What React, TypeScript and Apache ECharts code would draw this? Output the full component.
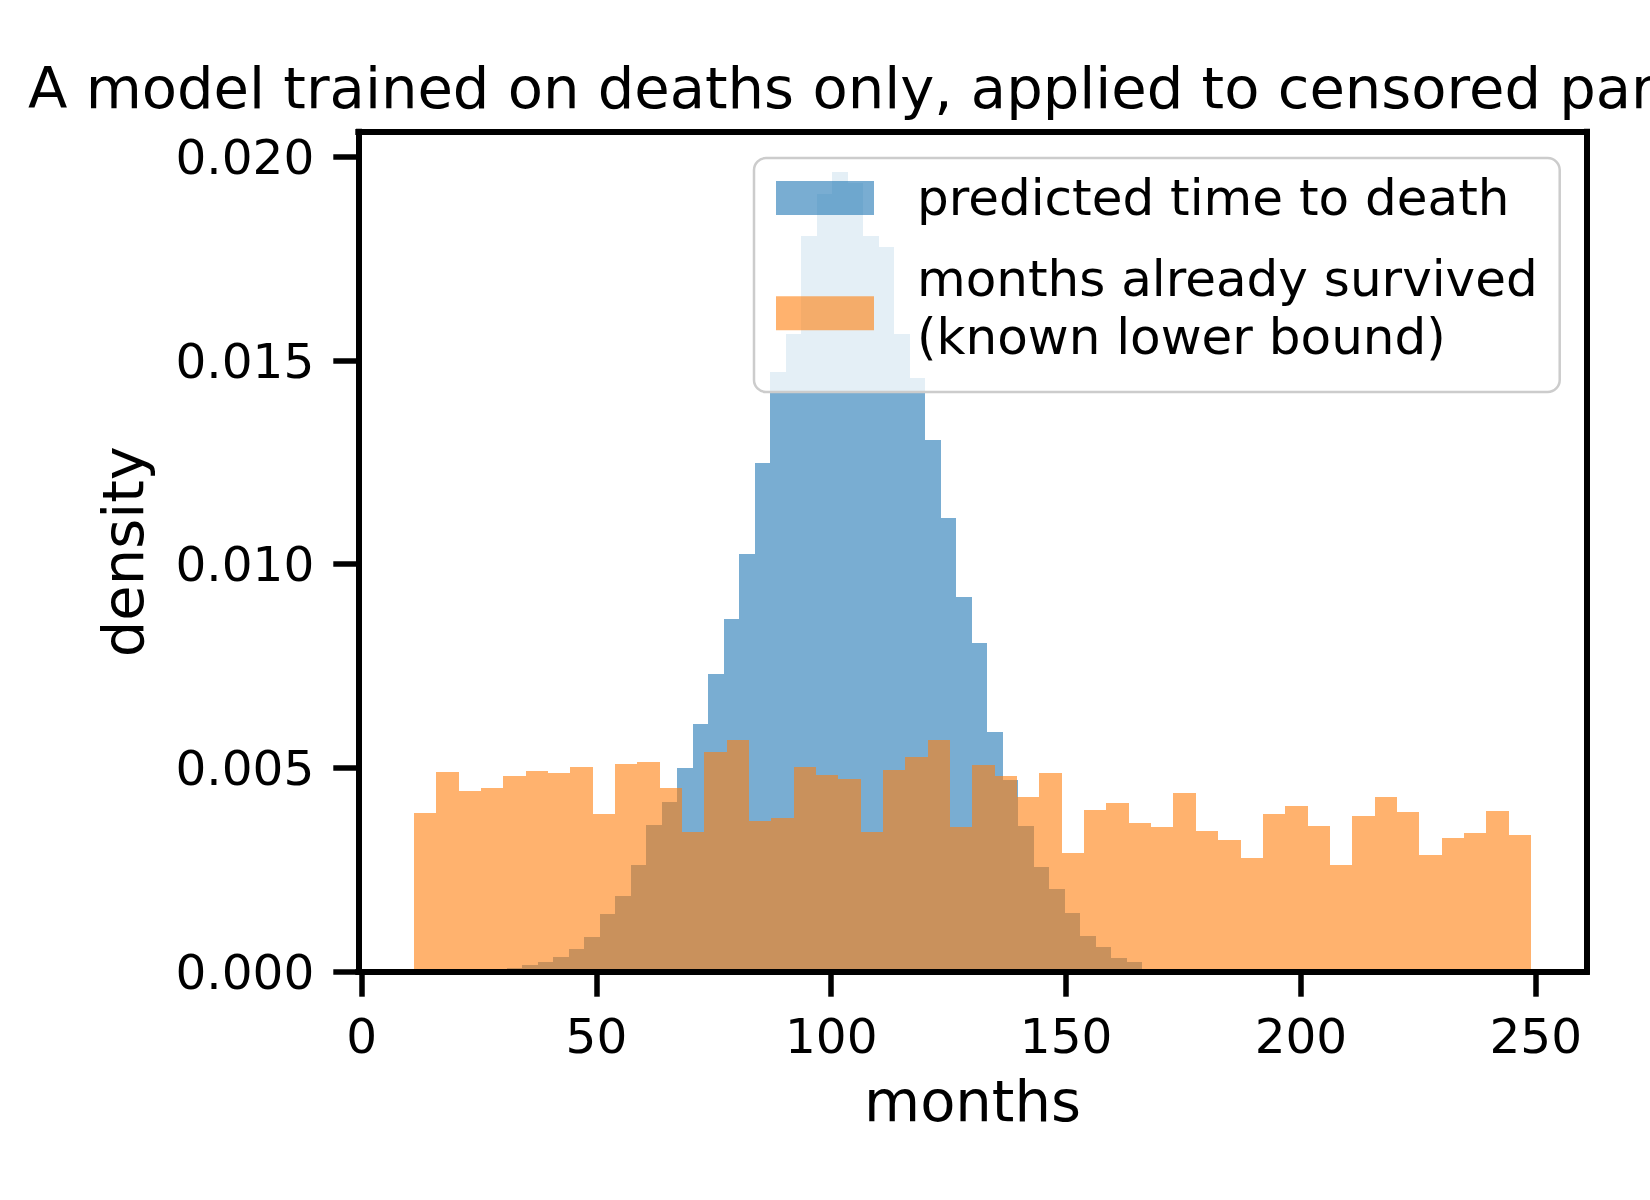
import { useEffect, useRef } from "react";
import * as echarts from "echarts";

const FONT = "DejaVu Sans";

const TITLE = "A model trained on deaths only, applied to censored participants";
const X_LABEL = "months";
const Y_LABEL = "density";
const DEATH_LABEL = "predicted time to death";
const SURVIVED_LABEL = "months already survived\n(known lower bound)";

const xTicks = [0, 50, 100, 150, 200, 250];
const yTicks = [0, 0.005, 0.01, 0.015, 0.02];

// Predicted time to death: equal-width bins (months), density per bin
const deathBinStart = 30.89;
const deathBinWidth = 3.3;
const deathDensity = [
  0.00008, 0.00016, 0.00024, 0.00036, 0.00056, 0.00085, 0.00142, 0.00186,
  0.00262, 0.0036, 0.00417, 0.005, 0.00608, 0.0073, 0.00866, 0.01025,
  0.01249, 0.01473, 0.01566, 0.01806, 0.01909, 0.01962, 0.01935, 0.01806,
  0.01779, 0.01564, 0.01456, 0.01305, 0.01114, 0.00919, 0.00807, 0.00589,
  0.0047, 0.00358, 0.00256, 0.00203, 0.00145, 0.00087, 0.00061, 0.00034,
  0.00024,
];

// Months already survived (censoring times): equal-width bins, density per bin
const survivedBinStart = 11.13;
const survivedBinWidth = 4.757;
const survivedDensity = [
  0.00389, 0.0049, 0.00444, 0.00451, 0.00481, 0.00493, 0.00488, 0.00503,
  0.00387, 0.0051, 0.00515, 0.00451, 0.00344, 0.00538, 0.00569, 0.00369,
  0.00376, 0.00502, 0.00483, 0.00472, 0.00344, 0.00494, 0.00528, 0.00569,
  0.00355, 0.00507, 0.00481, 0.00429, 0.00488, 0.00291, 0.00397, 0.00413,
  0.00365, 0.00355, 0.00439, 0.00345, 0.00323, 0.00279, 0.00387, 0.00407,
  0.00357, 0.00261, 0.00382, 0.00429, 0.00392, 0.00286, 0.00328, 0.0034,
  0.00394, 0.00335,
];

const X_MIN = -0.7;
const X_MAX = 260.85;
const Y_MAX = 0.020616;

const BLUE = "rgba(31,119,180,0.6)";
const ORANGE = "rgba(255,127,14,0.6)";

// Legend patches: a 98x34 swatch inside a 98x55 box; the second one sits lower,
// next to the middle of its two-line label
const PATCH_CENTERED = "path://M0,0M0,10.5L98,10.5L98,44.5L0,44.5ZM98,55";
const PATCH_LOWER = "path://M0,0M0,15.8L98,15.8L98,49.8L0,49.8ZM98,55";

// [left edge, right edge, density] rows for a histogram
function toBins(start: number, width: number, density: number[]) {
  return density.map((d, i) => [start + i * width, start + (i + 1) * width, d]);
}

function histRender(fill: string) {
  return (_params: any, api: any) => {
    const a = api.coord([api.value(0), api.value(2)]);
    const b = api.coord([api.value(1), 0]);
    const left = Math.round(a[0]);
    const right = Math.round(b[0]);
    const top = Math.round(a[1]);
    const bottom = Math.round(b[1]);
    return {
      type: "rect",
      shape: { x: left, y: top, width: right - left, height: bottom - top },
      style: { fill },
    };
  };
}

const SPINE = { color: "#000", width: 6, cap: "square" as const };

export default function App() {
  const ref = useRef<HTMLDivElement>(null);

  useEffect(() => {
    if (!ref.current) return;
    const chart = echarts.init(ref.current, null, { renderer: "svg" });

    const tickLabel = { fontFamily: FONT, fontSize: 48.5, color: "#000" };

    chart.setOption({
      animation: false,
      backgroundColor: "#fff",
      title: {
        text: TITLE,
        left: 28,
        top: 59,
        padding: 0,
        textStyle: { fontFamily: FONT, fontSize: 57.6, fontWeight: "normal", color: "#000" },
      },
      grid: { left: 358.3, top: 131.7, width: 1228.4, height: 840, containLabel: false },
      legend: {
        orient: "vertical",
        left: 754,
        top: 158,
        padding: [11, 22, 26, 22],
        itemWidth: 98,
        itemHeight: 55,
        itemGap: 23,
        symbolKeepAspect: true,
        selectedMode: false,
        backgroundColor: "rgba(255,255,255,0.8)",
        borderColor: "#cccccc",
        borderWidth: 2.5,
        borderRadius: 12,
        textStyle: {
          fontFamily: FONT,
          fontSize: 50,
          color: "#000",
          lineHeight: 58,
          padding: [0, 0, 0, 38],
        },
        data: [
          { name: DEATH_LABEL, icon: PATCH_CENTERED },
          { name: SURVIVED_LABEL, icon: PATCH_LOWER },
        ],
      },
      xAxis: [
        {
          type: "value",
          position: "bottom",
          min: X_MIN,
          max: X_MAX,
          z: 10,
          axisLine: { show: true, onZero: false, lineStyle: SPINE },
          axisTick: { show: true, length: 25, lineStyle: { color: "#000", width: 5.5 }, customValues: xTicks },
          axisLabel: { ...tickLabel, margin: 40, customValues: xTicks, formatter: (v: number) => String(v) },
          splitLine: { show: false },
          name: X_LABEL,
          nameLocation: "middle",
          nameGap: 101,
          nameTextStyle: { fontFamily: FONT, fontSize: 57.6, color: "#000" },
        },
        {
          type: "value",
          position: "top",
          min: X_MIN,
          max: X_MAX,
          z: 10,
          axisLine: { show: true, onZero: false, lineStyle: SPINE },
          axisTick: { show: false },
          axisLabel: { show: false },
          splitLine: { show: false },
        },
      ],
      yAxis: [
        {
          type: "value",
          position: "left",
          min: 0,
          max: Y_MAX,
          z: 10,
          axisLine: { show: true, onZero: false, lineStyle: SPINE },
          axisTick: { show: true, length: 25, lineStyle: { color: "#000", width: 5.5 }, customValues: yTicks },
          axisLabel: { ...tickLabel, margin: 44, customValues: yTicks, formatter: (v: number) => v.toFixed(3) },
          splitLine: { show: false },
          name: Y_LABEL,
          nameLocation: "middle",
          nameGap: 206,
          nameRotate: 90,
          nameTextStyle: { fontFamily: FONT, fontSize: 57.6, color: "#000" },
        },
        {
          type: "value",
          position: "right",
          min: 0,
          max: Y_MAX,
          z: 10,
          axisLine: { show: true, onZero: false, lineStyle: SPINE },
          axisTick: { show: false },
          axisLabel: { show: false },
          splitLine: { show: false },
        },
      ],
      series: [
        {
          name: DEATH_LABEL,
          type: "custom",
          xAxisIndex: 0,
          yAxisIndex: 0,
          itemStyle: { color: BLUE },
          encode: { x: [0, 1], y: 2 },
          renderItem: histRender(BLUE),
          data: toBins(deathBinStart, deathBinWidth, deathDensity),
        },
        {
          name: SURVIVED_LABEL,
          type: "custom",
          xAxisIndex: 0,
          yAxisIndex: 0,
          itemStyle: { color: ORANGE },
          encode: { x: [0, 1], y: 2 },
          renderItem: histRender(ORANGE),
          data: toBins(survivedBinStart, survivedBinWidth, survivedDensity),
        },
      ],
    });

    return () => chart.dispose();
  }, []);

  return (
    <div
      ref={ref}
      style={{ position: "fixed", left: 0, top: 0, width: 1650, height: 1200, background: "#fff" }}
    />
  );
}
